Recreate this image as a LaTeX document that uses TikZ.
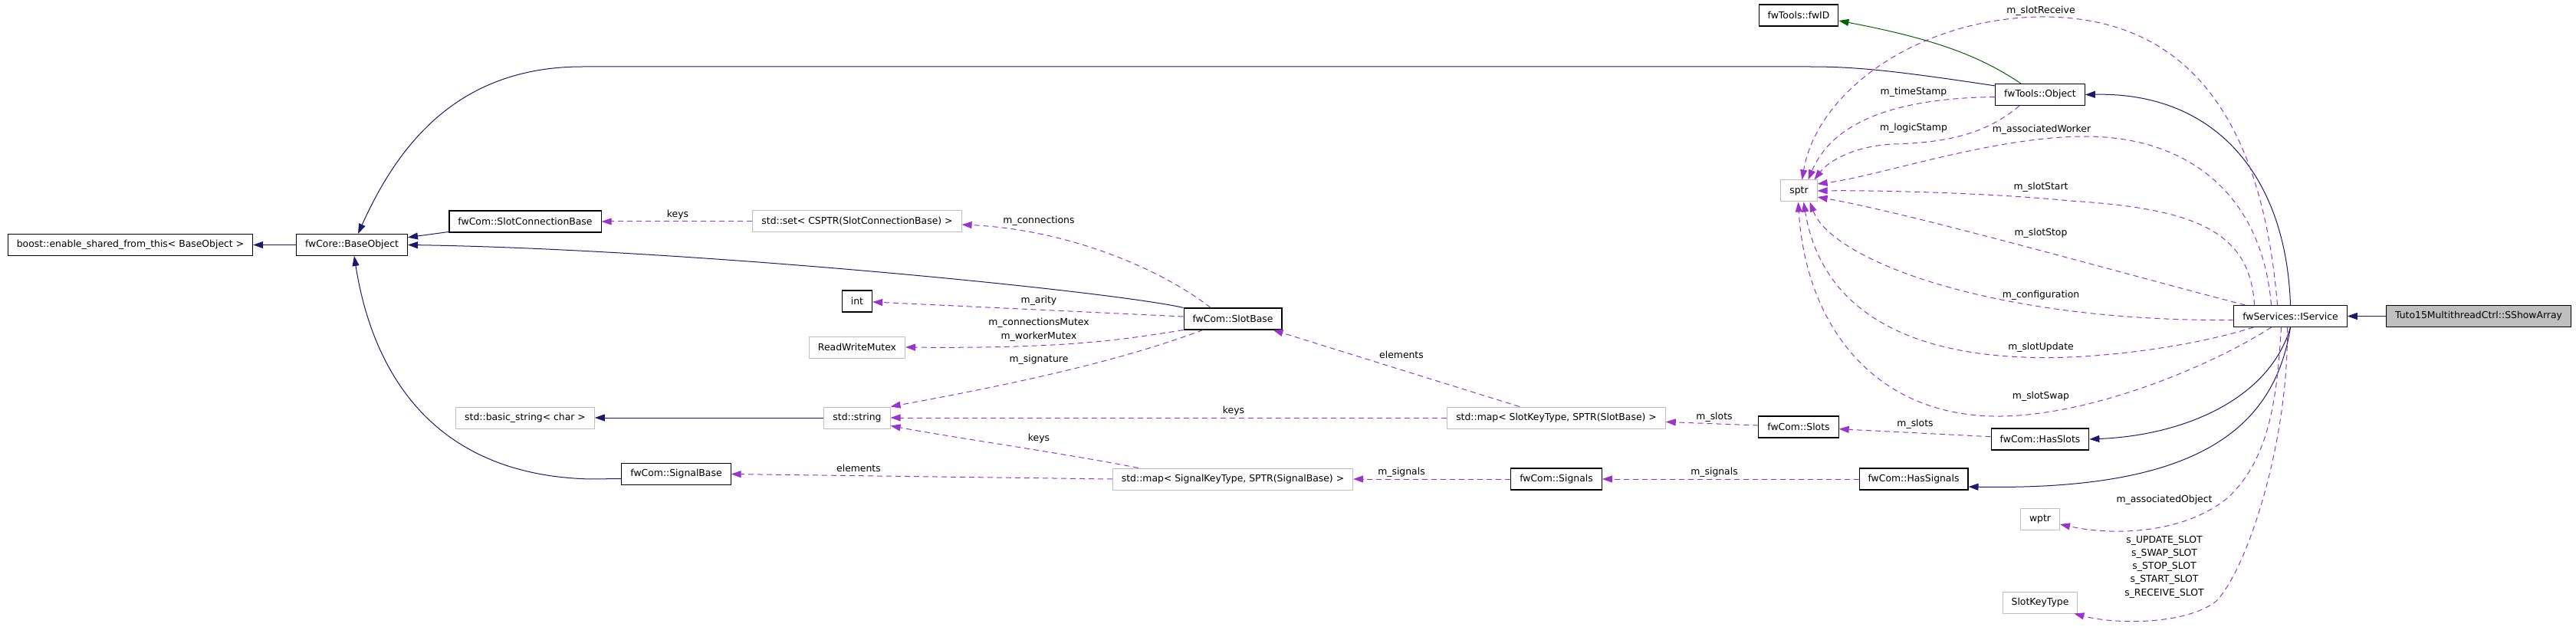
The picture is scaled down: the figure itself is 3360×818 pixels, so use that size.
\documentclass[tikz,border=0pt]{standalone}
\usepackage{fontspec}
\setmainfont{DejaVu Sans}
\usepackage{tikz}
\usetikzlibrary{arrows.meta,calc}
\definecolor{navy}{RGB}{25,25,112}
\definecolor{memberpurple}{RGB}{154,50,205}
\definecolor{darkgreen}{RGB}{0,100,0}
\definecolor{boxgray}{RGB}{191,191,191}

\begin{document}
\begin{tikzpicture}[x=1pt,y=-1pt,font=\fontsize{12.4}{14}\selectfont,
  cls/.style={draw=black,line width=1.1pt,fill=white,minimum height=28pt,inner xsep=11.5pt,inner ysep=0pt},
  ext/.style={cls,draw=boxgray,line width=1pt},
  cur/.style={cls,fill=boxgray},
  inh/.style={-{Triangle[length=13pt,width=9pt]},navy,line width=1pt},
  gen/.style={inh,darkgreen},
  mem/.style={-{Triangle[length=13pt,width=9pt]},memberpurple,line width=1pt,dash pattern=on 7pt off 5pt},
  lbl/.style={inner sep=0pt,align=center}
]
  \useasboundingbox (0,0) rectangle (3360,818);

  % classes
  \node[cls] (boost) at (170,319.5) {boost::enable\_shared\_from\_this< BaseObject >};
  \node[cls] (baseobj) at (459,319.5) {fwCore::BaseObject};
  \node[cls] (slotconn) at (685,289) {fwCom::SlotConnectionBase};
  \node[ext] (stdset) at (1118,289) {std::set< CSPTR(SlotConnectionBase) >};
  \node[cls] (int) at (1118,393) {int};
  \node[ext] (rwmutex) at (1118,453) {ReadWriteMutex};
  \node[ext] (stdstring) at (1118,545) {std::string};
  \node[ext] (basicstr) at (685,545) {std::basic\_string< char >};
  \node[cls] (sigbase) at (882,618.5) {fwCom::SignalBase};
  \node[cls] (slotbase) at (1608,416) {fwCom::SlotBase};
  \node[ext] (mapsig) at (1608,625) {std::map< SignalKeyType, SPTR(SignalBase) >};
  \node[ext] (mapslot) at (2030,545) {std::map< SlotKeyType, SPTR(SlotBase) >};
  \node[cls] (slots) at (2346,557) {fwCom::Slots};
  \node[cls] (signals) at (2030,625) {fwCom::Signals};
  \node[cls] (hasslots) at (2661,573) {fwCom::HasSlots};
  \node[cls] (hassignals) at (2496,625) {fwCom::HasSignals};
  \node[ext] (wptr) at (2661,677) {wptr};
  \node[ext] (slotkey) at (2661,786) {SlotKeyType};
  \node[cls] (fwid) at (2346,20) {fwTools::fwID};
  \node[cls] (object) at (2661,123.5) {fwTools::Object};
  \node[ext] (sptr) at (2346.5,249) {sptr};
  \node[cls] (iservice) at (2987.5,412.5) {fwServices::IService};
  \node[cur] (sshow) at (3233,412.5) {Tuto15MultithreadCtrl::SShowArray};

  % inheritance
  \draw[inh] (baseobj) -- (boost);
  \draw[inh] (slotconn) -- (baseobj);
  \draw[inh] (slotbase.north west) .. controls (1450,380) and (900,325) .. (baseobj.east);
  \draw[inh] ($(object.north west)+(0,3)$) .. controls (2470,92) and (2420,87) .. (2360,87) -- (760,87)
    .. controls (600,87) and (521,185) .. ($(baseobj.north)+(8,0)$);
  \draw[inh] ($(sigbase.west)+(0,6)$) -- (770,625) .. controls (560,620) and (485,480) .. ($(baseobj.south)+(3,0)$);
  \draw[inh] (stdstring) -- (basicstr);
  \draw[inh] (iservice.north) .. controls (2982,230) and (2890,120) .. (object.east);
  \draw[inh] (sshow) -- (iservice);
  \draw[inh] (iservice.south) .. controls (2960,520) and (2850,568) .. (hasslots.east);
  \draw[inh] (iservice.south) .. controls (2965,570) and (2850,640) .. ($(hassignals.east)+(0,10)$);
  \draw[gen] ($(object.north)+(-25,0)$) .. controls (2585,75) and (2530,52) .. ($(fwid.east)+(0,7)$);

  % members
  \draw[mem] (stdset) -- (slotconn);
  \draw[mem] ($(slotbase.north)+(-29,0)$) .. controls (1520,355) and (1400,300) .. ($(stdset.east)+(0,4)$);
  \draw[mem] (slotbase) -- (int);
  \draw[mem] (slotbase.south west) .. controls (1470,442) and (1400,455) .. (rwmutex.east);
  \draw[mem] ($(slotbase.south)+(-39,0)$) .. controls (1450,475) and (1300,505) .. (stdstring.north east);
  \draw[mem] (mapslot) -- (stdstring);
  \draw[mem] ($(mapsig.north west)+(34,0)$) .. controls (1380,590) and (1250,572) .. ($(stdstring.south east)+(0,-4)$);
  \draw[mem] (mapsig.west) -- (sigbase.east);
  \draw[mem] ($(mapslot.north)+(-48,0)$) -- ($(slotbase.south east)+(-12,0)$);
  \draw[mem] (slots) -- (mapslot);
  \draw[mem] (signals) -- (mapsig);
  \draw[mem] (hasslots) -- (slots);
  \draw[mem] (hassignals) -- (signals);
  \draw[mem] ($(object.west)+(0,3)$) .. controls (2470,128) and (2390,160) .. ($(sptr.north)+(12,0)$);
  \draw[mem] ($(object.south)+(-27,0)$) .. controls (2590,175) and (2540,186) .. (2470,188)
    .. controls (2420,190) and (2385,210) .. ($(sptr.north)+(20,0)$);
  \draw[mem] ($(iservice.north)+(-17,0)$) .. controls (2950,150) and (2850,20) .. (2660,22)
    .. controls (2500,25) and (2370,120) .. ($(sptr.north)+(4,0)$);
  \draw[mem] ($(iservice.north)+(-25,0)$) .. controls (2950,250) and (2850,178) .. (2720,178)
    .. controls (2600,178) and (2450,230) .. ($(sptr.east)+(0,-9)$);
  \draw[mem] ($(iservice.north)+(-47,0)$) .. controls (2935,300) and (2860,272) .. (2700,262)
    .. controls (2600,252) and (2450,248) .. (sptr.east);
  \draw[mem] ($(iservice.north)+(-59,0)$) .. controls (2780,360) and (2500,280) .. ($(sptr.east)+(0,8)$);
  \draw[mem] ($(iservice.west)+(0,5)$) .. controls (2600,420) and (2390,340) .. ($(sptr.south)+(14,0)$);
  \draw[mem] ($(iservice.south west)+(26,0)$) .. controls (2850,455) and (2720,470) .. (2640,466)
    .. controls (2480,460) and (2375,400) .. ($(sptr.south)+(6,0)$);
  \draw[mem] ($(iservice.south)+(-25,0)$) .. controls (2880,480) and (2720,545) .. (2600,543)
    .. controls (2440,540) and (2355,420) .. ($(sptr.south)+(-1,0)$);
  \draw[mem] ($(iservice.south)+(-12,0)$) .. controls (2970,520) and (2960,600) .. (2905,650)
    .. controls (2850,695) and (2760,700) .. ($(wptr.east)+(0,7)$);
  \draw[mem] ($(iservice.south)+(-4,0)$) .. controls (2985,580) and (2930,745) .. (2890,785)
    .. controls (2850,815) and (2760,815) .. ($(slotkey.south east)+(-5,0)$);

  % labels
  \node[lbl] (lkeysa) at (884,280) {keys};
  \node[lbl] (lconn) at (1355,288) {m\_connections};
  \node[lbl] (larity) at (1355,392) {m\_arity};
  \node[lbl,font=\fontsize{12.4}{18}\selectfont] (lmutex) at (1355,430) {m\_connectionsMutex\\m\_workerMutex};
  \node[lbl] (lsign) at (1355,469) {m\_signature};
  \node[lbl] (lkeysb) at (1609,536) {keys};
  \node[lbl] (lkeysc) at (1355,572) {keys};
  \node[lbl] (lelemb) at (1120,611) {elements};
  \node[lbl] (lelema) at (1828,463) {elements};
  \node[lbl] (lslotsa) at (2236,544) {m\_slots};
  \node[lbl] (lsigsa) at (1828,616) {m\_signals};
  \node[lbl] (lslotsb) at (2498,553) {m\_slots};
  \node[lbl] (lsigsb) at (2236,616) {m\_signals};
  \node[lbl] (lrecv) at (2662,14) {m\_slotReceive};
  \node[lbl] (ltime) at (2496,120) {m\_timeStamp};
  \node[lbl] (llogic) at (2496,167) {m\_logicStamp};
  \node[lbl] (lworker) at (2663,169) {m\_associatedWorker};
  \node[lbl] (lstart) at (2662,244) {m\_slotStart};
  \node[lbl] (lstop) at (2662,304) {m\_slotStop};
  \node[lbl] (lconf) at (2662,385) {m\_configuration};
  \node[lbl] (lupd) at (2662,453) {m\_slotUpdate};
  \node[lbl] (lswap) at (2662,517) {m\_slotSwap};
  \node[lbl] (lobj) at (2823,652) {m\_associatedObject};
  \node[lbl,font=\fontsize{12.4}{17.3}\selectfont] (lkeys) at (2823,739.5) {s\_UPDATE\_SLOT\\s\_SWAP\_SLOT\\s\_STOP\_SLOT\\s\_START\_SLOT\\s\_RECEIVE\_SLOT};
\end{tikzpicture}
\end{document}
